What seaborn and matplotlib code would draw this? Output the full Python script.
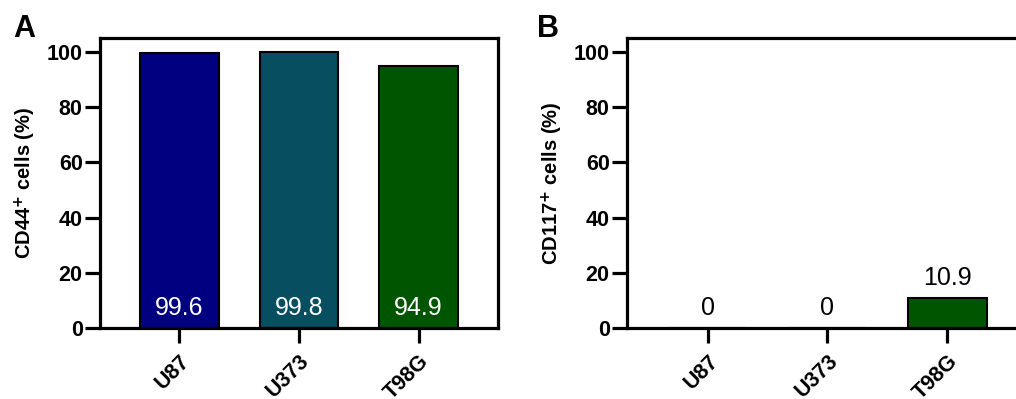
import pandas as pd
import matplotlib
matplotlib.use("Agg")
import matplotlib.pyplot as plt
import seaborn as sns

# data
cell_lines = ["U87", "U373", "T98G"]
cd44_pct = [99.6, 99.8, 94.9]
cd117_pct = [0.0, 0.0, 10.9]
bar_colors = ["#000080", "#064E60", "#005500"]

sns.set_theme(style="ticks")
plt.rcParams["font.family"] = ["Liberation Sans", "DejaVu Sans"]
plt.rcParams.update({"text.color": "black", "axes.labelcolor": "black",
                     "xtick.color": "black", "ytick.color": "black"})

df = pd.DataFrame({"cell": cell_lines, "CD44": cd44_pct, "CD117": cd117_pct})
palette = dict(zip(cell_lines, bar_colors))

fig = plt.figure(figsize=(10.16, 3.99), dpi=100)
ax_a = fig.add_axes([100 / 1016, 71 / 399, 398 / 1016, 290 / 399])
ax_b = fig.add_axes([627 / 1016, 71 / 399, 392 / 1016, 290 / 399])


def draw_panel(ax, col, ylabel, inside):
    sns.barplot(data=df, x="cell", y=col, hue="cell", palette=palette,
                order=cell_lines, width=0.66, edgecolor="black", linewidth=1.5,
                saturation=1, legend=False, ax=ax)
    ax.set_ylim(0, 105)
    ax.set_xlim(-0.665, 2.665)
    ax.set_yticks([0, 20, 40, 60, 80, 100])
    ax.set_xlabel("")
    ax.set_ylabel(ylabel, fontsize=14.5, fontweight="bold", labelpad=6)
    for s in ax.spines.values():
        s.set_linewidth(2.3)
        s.set_color("black")
    ax.tick_params(axis="both", length=10.5, width=2.3, color="black")
    ax.tick_params(axis="y", labelsize=15.5, pad=2)
    ax.tick_params(axis="x", labelsize=15.5, pad=6)
    for lbl in ax.get_yticklabels():
        lbl.set_fontweight("bold")
    for lbl in ax.get_xticklabels():
        lbl.set_fontweight("bold")
        lbl.set_rotation(45)
        lbl.set_ha("right")
        lbl.set_rotation_mode("anchor")
    # value labels
    for i, v in enumerate(df[col]):
        if inside:
            ax.annotate(f"{v:g}", (i, 0), xytext=(0, 6), textcoords="offset points",
                        ha="center", va="bottom", color="white", fontsize=18)
        else:
            ax.annotate(f"{v:g}", (i, v), xytext=(0, 6), textcoords="offset points",
                        ha="center", va="bottom", color="black", fontsize=18)


draw_panel(ax_a, "CD44", r"CD44$^{\mathbf{+}}$ cells (%)", inside=True)
draw_panel(ax_b, "CD117", r"CD117$^{\mathbf{+}}$ cells (%)", inside=False)
ax_b.set_xlim(-0.675, 2.6)

fig.text(13 / 1016, 1 - 37 / 399, "A", fontsize=22, fontweight="bold", va="baseline")
fig.text(537 / 1016, 1 - 37 / 399, "B", fontsize=22, fontweight="bold", va="baseline")

fig.savefig("out.png", dpi=100)
